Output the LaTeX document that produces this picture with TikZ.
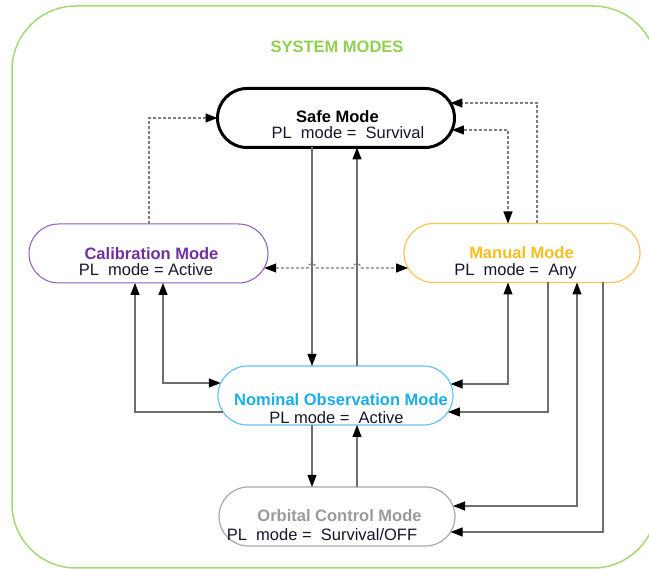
\documentclass[tikz,border=0pt]{standalone}
\usepackage{fontspec}
\setmainfont{Liberation Sans}
\usetikzlibrary{arrows.meta,calc}

\definecolor{frameGreen}{HTML}{A6D875}
\definecolor{titleGreen}{HTML}{92D050}
\definecolor{calPurple}{HTML}{7030A0}
\definecolor{calEdge}{HTML}{8C5BB8}
\definecolor{manOrange}{HTML}{FFBC1F}
\definecolor{manEdge}{HTML}{F9C45A}
\definecolor{nomBlue}{HTML}{1AADEB}
\definecolor{nomEdge}{HTML}{62C2F0}
\definecolor{orbGray}{HTML}{9A9A9A}
\definecolor{orbEdge}{HTML}{A8A8A8}
\definecolor{linkGray}{HTML}{6E6E6E}
\definecolor{dashGray}{HTML}{7E7E7E}
\definecolor{subInk}{HTML}{16162A}

\tikzset{
  modetip/.tip={Triangle[length=12pt,width=9pt,color=black]},
  modebox/.style={rectangle, rounded corners=29.5pt, minimum height=59pt,
    inner sep=0pt, outer sep=0pt},
  headtext/.style={anchor=base, inner sep=0pt,
    font=\fontsize{16.5}{18}\selectfont\bfseries},
  subtext/.style={anchor=base, inner sep=0pt,
    font=\fontsize{16.5}{18}\selectfont, text=subInk},
  link/.style={draw=linkGray, line width=1.2pt},
  dlink/.style={draw=dashGray, line width=1.1pt, dash pattern=on 3pt off 2pt},
}

\begin{document}
\begin{tikzpicture}[x=1pt,y=-1pt]
  \useasboundingbox (0,0) rectangle (649,569);
  \clip (0,0) rectangle (649,569);

  % outer frame and heading
  \draw[frameGreen, line width=1.5pt, rounded corners=64pt] (12,6) rectangle (657,568);
  \node[headtext, text=titleGreen] (title) at (337,53) {SYSTEM MODES};

  % mode boxes
  \node[modebox, draw=black, line width=3pt, minimum width=237pt] (safe) at (336,118) {};
  \node[modebox, draw=calEdge, line width=1pt, minimum width=239pt] (cal) at (148.5,253.5) {};
  \node[modebox, draw=manEdge, line width=1.2pt, minimum width=236pt] (manual) at (522,253) {};
  \node[modebox, draw=nomEdge, line width=1.2pt, minimum width=235pt] (nominal) at (335.5,395.5) {};
  \node[modebox, draw=orbEdge, line width=1.2pt, minimum width=236pt] (orbital) at (337,516.5) {};

  % mode texts
  \node[headtext, text=black] (safeName) at (337.5,122.5) {Safe Mode};
  \node[subtext] (safePL) at (348,138.5) {PL\ \ mode =\ \ Survival};
  \node[headtext, text=calPurple] (calName) at (151.5,260) {Calibration Mode};
  \node[subtext] (calPL) at (146,276) {PL\ \ mode = Active};
  \node[headtext, text=manOrange] (manName) at (521.5,258.7) {Manual Mode};
  \node[subtext] (manPL) at (515.5,276) {PL\ \ mode =\ \ Any};
  \node[headtext, text=nomBlue] (nomName) at (341,406) {Nominal Observation Mode};
  \node[subtext] (nomPL) at (336.5,423.3) {PL mode =\ \ Active};
  \node[headtext, text=orbGray] (orbName) at (339.5,522) {Orbital Control Mode};
  \node[subtext] (orbPL) at (322,541) {PL\ \ mode =\ \ Survival/OFF};

  % vertical lanes of the connectors
  \coordinate (laneL) at (312,0);
  \coordinate (laneR) at (357,0);
  \coordinate (calUp) at (149,0);
  \coordinate (calLowA) at (135,0);
  \coordinate (calLowB) at (163,0);
  \coordinate (manUpA) at (508,0);
  \coordinate (manUpB) at (537,0);
  \coordinate (manLowA) at (508,0);
  \coordinate (manLowB) at (548,0);
  \coordinate (manLowC) at (577,0);
  \coordinate (manLowD) at (603,0);

  % central column
  \draw[link, -modetip] (safe.south -| laneL) -- (nominal.north -| laneL);
  \draw[link, -modetip] (nominal.north -| laneR) -- (safe.south -| laneR);
  \draw[link, -modetip] (nominal.south -| laneL) -- (orbital.north -| laneL);
  \draw[link, -modetip] (orbital.north -| laneR) -- (nominal.south -| laneR);

  % dashed links around safe mode
  \draw[dlink, -modetip] (cal.north -| calUp) |- (safe.west);
  \draw[dlink, -modetip] (manual.north -| manUpB) |- ($(safe.east)+(-4.1,-15)$);
  \draw[dlink, modetip-modetip] ($(safe.east)+(-2.55,12)$) -| (manual.north -| manUpA);

  % dashed link calibration <-> manual, hopping over the central column
  \coordinate (hopA) at ($(cal.east)+(-3.8,14.5)$);
  \coordinate (hopB) at ($(manual.west)+(4.1,15)$);
  \draw[dlink, modetip-modetip] (hopA)
    -- ($(hopA -| laneL)+(-4,0)$)
    .. controls ($(hopA -| laneL)+(-3.5,-6)$) and ($(hopA -| laneL)+(3.5,-6)$) .. ($(hopA -| laneL)+(4,0)$)
    -- ($(hopA -| laneR)+(-4,0)$)
    .. controls ($(hopA -| laneR)+(-3.5,-6)$) and ($(hopA -| laneR)+(3.5,-6)$) .. ($(hopA -| laneR)+(4,0)$)
    -- (hopB);

  % calibration <-> nominal
  \draw[link, modetip-modetip] (cal.south -| calLowB) |- ($(nominal.west)+(2.8,-12.5)$);
  \draw[link, -modetip] ($(nominal.west)+(5.05,16.5)$) -| (cal.south -| calLowA);

  % manual <-> nominal and orbital
  \draw[link, modetip-modetip] (manual.south -| manLowA) |- ($(nominal.east)+(-2.33,-11.5)$);
  \draw[link, -modetip] (manual.south -| manLowB) |- ($(nominal.east)+(-5.05,16.5)$);
  \draw[link, modetip-modetip] (manual.south -| manLowC) |- ($(orbital.east)+(-1.93,-10.5)$);
  \draw[link, -modetip] (manual.south -| manLowD) |- ($(orbital.east)+(-4.4,15.5)$);
\end{tikzpicture}
\end{document}
